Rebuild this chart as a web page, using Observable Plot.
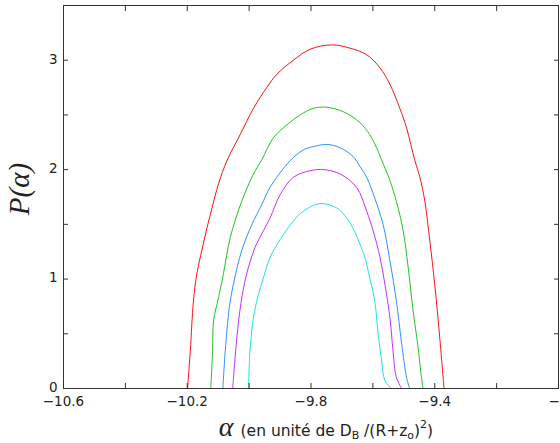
<!DOCTYPE html>
<html>
<head>
<meta charset="utf-8">
<script src="https://cdn.jsdelivr.net/npm/d3@7"></script>
<script src="https://cdn.jsdelivr.net/npm/@observablehq/plot@0.6"></script>
<style>
  html, body { margin: 0; padding: 0; background: #fff; }
  #chart svg { display: block; }
</style>
</head>
<body>
<div id="chart"></div>
<script>
// ---- data ----
const seriesNames = ["rouge", "vert", "bleu", "magenta", "cyan"];
const seriesColors = ["#ff1010", "#22c322", "#2f8fff", "#c030ff", "#1ee3e3"];

const redAlpha = [-10.199,-10.190,-10.180,-10.169,-10.153,-10.136,-10.120,-10.099,-10.072,-10.029,-9.986,-9.943,-9.911,-9.857,-9.803,-9.733,-9.674,-9.620,-9.577,-9.545,-9.513,-9.491,-9.465,-9.448,-9.432,-9.416,-9.400,-9.384,-9.373,-9.370];
const redP     = [0,0.35,0.80,1.05,1.26,1.47,1.65,1.87,2.08,2.32,2.56,2.75,2.87,3.00,3.10,3.14,3.11,3.05,2.93,2.78,2.56,2.38,2.09,1.93,1.71,1.35,0.95,0.47,0.10,0];

const greenAlpha = [-10.124,-10.118,-10.115,-10.099,-10.083,-10.061,-10.024,-9.986,-9.959,-9.922,-9.878,-9.835,-9.793,-9.749,-9.696,-9.642,-9.610,-9.588,-9.572,-9.545,-9.524,-9.502,-9.486,-9.470,-9.454,-9.443,-9.438];
const greenP     = [0,0.35,0.62,0.83,1.05,1.38,1.71,1.96,2.09,2.29,2.41,2.50,2.56,2.57,2.53,2.43,2.32,2.20,2.09,1.90,1.71,1.44,1.11,0.71,0.38,0.10,0];

const blueAlpha = [-10.085,-10.077,-10.064,-10.051,-10.024,-9.991,-9.959,-9.932,-9.868,-9.825,-9.793,-9.749,-9.706,-9.664,-9.642,-9.620,-9.594,-9.567,-9.545,-9.524,-9.507,-9.491,-9.481];
const blueP     = [0,0.35,0.74,0.95,1.26,1.50,1.68,1.84,2.08,2.18,2.21,2.23,2.20,2.12,2.03,1.93,1.74,1.50,1.17,0.80,0.41,0.10,0];

const magentaAlpha = [-10.053,-10.045,-10.034,-10.018,-10.002,-9.981,-9.954,-9.932,-9.900,-9.857,-9.803,-9.758,-9.706,-9.653,-9.620,-9.599,-9.577,-9.561,-9.545,-9.535,-9.524,-9.507];
const magentaP     = [0,0.29,0.62,0.92,1.11,1.29,1.44,1.56,1.77,1.93,1.99,2.00,1.96,1.84,1.62,1.44,1.20,0.95,0.65,0.35,0.10,0];

const cyanAlpha = [-10.002,-9.997,-9.986,-9.970,-9.954,-9.932,-9.900,-9.857,-9.825,-9.771,-9.717,-9.685,-9.658,-9.642,-9.626,-9.610,-9.594,-9.583,-9.572,-9.561,-9.540];
const cyanP     = [0,0.35,0.65,0.86,1.01,1.20,1.36,1.53,1.62,1.69,1.65,1.56,1.43,1.32,1.20,1.01,0.80,0.50,0.26,0.07,0];

const xTicks = [-10.6,-10.4,-10.2,-10.0,-9.8,-9.6,-9.4,-9.2,-9.0];
const xTickLabels = [-10.6,-10.2,-9.8,-9.4,-9];
const yTicks = [0,0.5,1,1.5,2,2.5,3];
const yTickLabels = [0,1,2,3];

// ---- build table ----
const seriesData = [
  [redAlpha, redP], [greenAlpha, greenP], [blueAlpha, blueP], [magentaAlpha, magentaP], [cyanAlpha, cyanP]
];
const rows = [];
seriesData.forEach(([a, p], i) => a.forEach((v, j) => rows.push({series: seriesNames[i], alpha: v, P: p[j]})));

const fmtX = d3.format(".1~f");
const fmtY = d3.format("d");
const axisColor = "#333";

const chart = Plot.plot({
  width: 560,
  height: 443,
  marginLeft: 63,
  marginRight: 2,
  marginTop: 5,
  marginBottom: 55,
  style: {fontFamily: "DejaVu Sans, sans-serif", fontSize: "13.5px", color: "#222", background: "#fff", overflow: "visible"},
  x: {domain: [-10.6, -9]},
  y: {domain: [0, 3.5]},
  color: {domain: seriesNames, range: seriesColors},
  marks: [
    Plot.line(rows, {x: "alpha", y: "P", z: "series", stroke: "series", strokeWidth: 1, curve: "catmull-rom"}),
    Plot.frame({stroke: axisColor, strokeWidth: 1}),
    // inward ticks on all four sides
    Plot.axisX(xTicks, {anchor: "bottom", tickSize: -5, tickFormat: () => "", stroke: axisColor, label: null}),
    Plot.axisX(xTicks, {anchor: "top", tickSize: -5, tickFormat: () => "", stroke: axisColor, label: null}),
    Plot.axisY(yTicks, {anchor: "left", tickSize: -5, tickFormat: () => "", stroke: axisColor, label: null}),
    Plot.axisY(yTicks, {anchor: "right", tickSize: -5, tickFormat: () => "", stroke: axisColor, label: null}),
    // labels
    Plot.axisX(xTickLabels, {anchor: "bottom", tickSize: 0, tickPadding: 8, tickFormat: fmtX, label: null, fill: "#222"}),
    Plot.axisY(yTickLabels, {anchor: "left", tickSize: 0, tickPadding: 6, tickFormat: fmtY, label: null, fill: "#222", dy: -1})
  ]
});

document.getElementById("chart").appendChild(chart);

// axis titles
const svg = d3.select(chart);
const sans = "DejaVu Sans, sans-serif";
const xt = svg.append("text")
  .attr("x", 326).attr("y", 436)
  .attr("text-anchor", "middle")
  .attr("fill", "#222");
xt.append("tspan").attr("font-family", "Liberation Serif, DejaVu Serif, serif").attr("font-style", "italic").attr("font-size", "28px").text("α");
xt.append("tspan").attr("font-family", sans).attr("font-size", "15.5px").attr("dx", "7").text("(en unité de D");
xt.append("tspan").attr("font-family", sans).attr("font-size", "11px").attr("dy", "3").text("B");
xt.append("tspan").attr("font-family", sans).attr("font-size", "15.5px").attr("dy", "-3").text(" /(R+z");
xt.append("tspan").attr("font-family", sans).attr("font-size", "11px").attr("dy", "3").text("o");
xt.append("tspan").attr("font-family", sans).attr("font-size", "15.5px").attr("dy", "-3").text(")");
xt.append("tspan").attr("font-family", sans).attr("font-size", "11px").attr("dy", "-8").text("2");
xt.append("tspan").attr("font-family", sans).attr("font-size", "15.5px").attr("dy", "8").text(")");

svg.append("text")
  .attr("transform", "translate(29,189) rotate(-90)")
  .attr("text-anchor", "middle")
  .attr("font-family", "Liberation Serif, DejaVu Serif, serif")
  .attr("font-style", "italic")
  .attr("font-size", "29px")
  .attr("fill", "#222")
  .text("P(α)");
</script>
</body>
</html>
